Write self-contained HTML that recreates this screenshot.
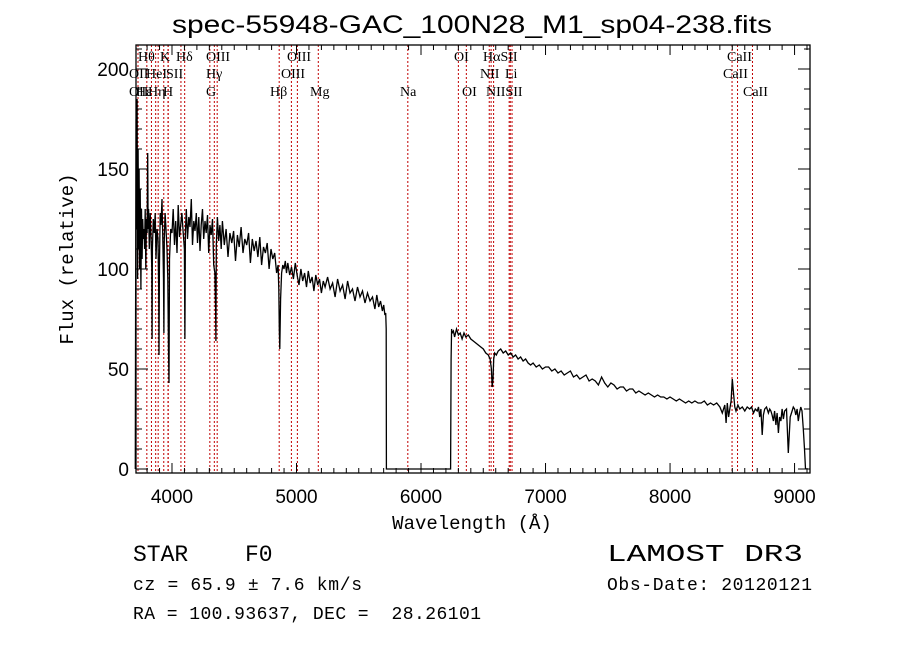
<!DOCTYPE html>
<html><head><meta charset="utf-8"><style>
body{margin:0;background:#fff;}
svg{display:block;font-family:"Liberation Sans",sans-serif;}
</style></head><body>
<svg id="chart" width="900" height="649">
<rect width="900" height="649" fill="#fff"/>
<text x="472" y="33" font-size="25" text-anchor="middle" textLength="600" lengthAdjust="spacingAndGlyphs">spec-55948-GAC_100N28_M1_sp04-238.fits</text>
<g id="lines"></g>
<g id="linelabels" font-family="Liberation Serif, serif" font-size="14"></g>
<g id="ticks"></g>
<polyline id="spec" fill="none" stroke="#000" stroke-width="1.3"/>
<rect x="136" y="45" width="674" height="428" fill="none" stroke="#000" stroke-width="1.3"/>
<text x="472" y="529" font-size="19" text-anchor="middle" font-family="Liberation Mono, monospace">Wavelength (Å)</text>
<text transform="translate(73,259) rotate(-90)" font-size="19" text-anchor="middle" font-family="Liberation Mono, monospace">Flux (relative)</text>
<text x="133" y="561" font-size="23" font-family="Liberation Mono, monospace">STAR</text>
<text x="245" y="561" font-size="23" font-family="Liberation Mono, monospace">F0</text>
<text x="133" y="590" font-size="18" textLength="229" font-family="Liberation Mono, monospace">cz = 65.9 ± 7.6 km/s</text>
<text x="133" y="619" font-size="18" textLength="348" xml:space="preserve" font-family="Liberation Mono, monospace">RA = 100.93637, DEC =  28.26101</text>
<text x="607" y="561" font-size="24" textLength="196" lengthAdjust="spacingAndGlyphs" font-family="Liberation Mono, monospace">LAMOST DR3</text>
<text x="607" y="590" font-size="18" textLength="205" font-family="Liberation Mono, monospace">Obs-Date: 20120121</text>
</svg>
<script>
const wave = [
3705,3708,3712,3716,3720,3724,3728,3732,3736,3740,
3745,3750,3755,3760,3765,3770,3775,3780,3785,3790,
3795,3800,3805,3808,3812,3818,3825,3832,3838,3840,
3843,3850,3858,3865,3872,3880,3888,3893,3896,3899,
3905,3912,3920,3928,3932,3935,3938,3945,3952,3960,
3966,3972,3976,3980,3990,4000,4010,4020,4030,4040,
4050,4060,4070,4080,4090,4100,4104,4108,4115,4125,
4135,4145,4155,4165,4175,4185,4195,4205,4215,4225,
4235,4245,4255,4265,4275,4285,4295,4305,4315,4325,
4335,4345,4350,4353,4356,4365,4375,4385,4395,4405,
4420,4435,4450,4465,4480,4495,4510,4525,4540,4555,
4570,4585,4600,4615,4630,4645,4660,4675,4690,4705,
4720,4735,4750,4765,4780,4795,4810,4825,4840,4852,
4858,4862,4866,4872,4880,4890,4900,4910,4920,4930,
4945,4960,4975,4990,5005,5020,5035,5050,5065,5080,
5095,5110,5125,5140,5155,5170,5185,5200,5215,5230,
5250,5270,5290,5310,5330,5350,5370,5390,5410,5430,
5450,5470,5490,5510,5530,5550,5570,5590,5610,5630,
5645,5660,5675,5690,5700,5710,5716,5720,5722,6000,
6238,6242,6246,6250,6260,6270,6285,6300,6315,6330,
6345,6360,6380,6400,6420,6440,6460,6480,6500,6520,
6540,6555,6565,6572,6578,6584,6592,6605,6620,6640,
6660,6680,6700,6720,6740,6760,6780,6800,6820,6840,
6860,6880,6900,6925,6950,6975,7000,7025,7050,7075,
7100,7125,7150,7175,7200,7225,7250,7275,7300,7325,
7350,7375,7400,7425,7450,7475,7500,7525,7550,7575,
7600,7625,7650,7675,7700,7725,7750,7775,7800,7825,
7850,7875,7900,7925,7950,7975,8000,8025,8050,8075,
8100,8125,8150,8175,8200,8225,8250,8275,8300,8325,
8350,8375,8400,8420,8440,8450,8460,8470,8480,8490,
8500,8510,8520,8530,8545,8560,8580,8600,8620,8640,
8655,8670,8685,8700,8710,8720,8730,8740,8750,8760,
8775,8790,8800,8810,8820,8830,8840,8850,8860,8870,
8880,8890,8900,8910,8920,8935,8950,8965,8980,8990,
9000,9010,9020,9030,9040,9050,9060,9070,9080,9088];
const flux = [
0,80,175,120,185,95,160,110,150,100,
140,90,130,105,125,115,120,110,130,100,
125,118,158,120,130,110,128,115,100,65,
110,125,118,128,105,120,115,90,57,100,
128,122,135,110,95,68,115,128,120,110,
95,60,43,105,120,118,130,112,124,108,
132,116,122,128,118,110,65,118,130,115,
126,121,135,112,124,119,128,113,126,109,
122,130,115,124,118,127,108,122,117,125,
102,98,80,64,112,126,114,122,110,124,
112,120,106,118,113,119,104,117,111,121,
108,115,112,118,103,115,109,114,106,116,
102,111,108,113,100,110,105,108,98,102,
90,70,60,85,98,102,100,104,98,103,
97,101,95,103,97,92,100,94,98,91,
99,93,96,89,97,92,95,88,94,91,
96,90,93,86,95,89,92,85,94,88,
90,84,91,86,89,83,88,84,86,80,
87,81,84,79,82,77,78,70,0,0,
0,55,70,68,69,66,70,67,68,65,
68,66,67,65,64,63,62,61,60,58,
57,55,50,41,45,55,58,57,59,60,
58,59,57,58,56,57,55,56,54,55,
53,52,53,51,52,50,51,51,49,50,
48,49,47,48,49,46,47,45,46,47,
44,45,44,42,46,43,41,43,42,40,
41,41,39,40,40,38,39,38,37,38,
37,36,37,36,36,35,36,35,34,35,
34,33,34,33,34,33,33,34,32,33,
32,33,31,28,32,23,33,26,30,34,
45,38,31,29,32,30,31,29,31,30,
31,28,30,29,31,26,30,17,27,30,
31,28,30,29,27,24,29,22,28,18,
26,24,30,25,29,30,8,26,29,31,
30,27,30,24,28,31,29,20,10,0];
const lineWaves = [3727,3798,3835,3869,3889,3934,3968,3970,4072,4102,4304,4340,4363,4861,4959,5007,5175,5894,6300,6364,6548,6563,6583,6708,6717,6731,8498,8542,8662];
const lineLabelText = ["Hθ","K","Hδ","OIII","OIII","OII","HeI","SII","Hγ","OIII","OII","Hε","Hη","H","G","Hβ","Mg","Na","OI","HαSII","CaII","NII","Li","CaII","OI","NIISII","CaII"];
const labelX = [138,160,176,206,287,129,146,166,206,281,129,136,148,163,206,270,310,400,454,483,727,480,505,723,462,486,743];
const labelRow = [0,0,0,0,0,1,1,1,1,1,2,2,2,2,2,2,2,2,0,0,0,1,1,1,2,2,2];
const xTicks = [4000,5000,6000,7000,8000,9000];
const yTicks = [0,50,100,150,200];

const X0=136,X1=810,Y0=473,Y1=45;
const xMin=3711,xMax=9124,yMin=-2,yMax=212;
const sx = w => X0+(w-xMin)/(xMax-xMin)*(X1-X0);
const sy = f => Y0-(f-yMin)/(yMax-yMin)*(Y0-Y1);
const NS="http://www.w3.org/2000/svg";

const n=Math.min(wave.length,flux.length);
const pts = wave.slice(0,n).map((w,i)=>sx(w).toFixed(1)+","+sy(flux[i]).toFixed(1)).join(" ");
document.getElementById("spec").setAttribute("points",pts);

const lg=document.getElementById("lines");
lineWaves.forEach(w=>{
  const l=document.createElementNS(NS,"line");
  
  
  l.setAttribute("x1",sx(w));l.setAttribute("x2",sx(w));
  l.setAttribute("y1",Y1);l.setAttribute("y2",Y0);
  l.setAttribute("stroke","#c00000");l.setAttribute("stroke-width","1");
  l.setAttribute("stroke-dasharray","2,2");
  lg.appendChild(l);
});
const ll=document.getElementById("linelabels");
lineLabelText.forEach((t,i)=>{
  const e=document.createElementNS(NS,"text");
  
  
  e.setAttribute("x",labelX[i]);
  e.setAttribute("y",[61,78,96][labelRow[i]]);
  e.textContent=t;
  ll.appendChild(e);
});
const tg=document.getElementById("ticks");
function ln(x1,y1,x2,y2){const l=document.createElementNS(NS,"line");
  
  
  l.setAttribute("x1",x1);l.setAttribute("y1",y1);l.setAttribute("x2",x2);l.setAttribute("y2",y2);
  l.setAttribute("stroke","#000");tg.appendChild(l);}
for(let w=3800;w<=9100;w+=100){const x=sx(w);const L=(w%1000===0)?10:5;ln(x,Y0,x,Y0-L);ln(x,Y1,x,Y1+L);}
for(let f=0;f<=210;f+=10){const y=sy(f);const L=(f%50===0)?12:6;ln(X0,y,X0+L,y);ln(X1,y,X1-L,y);}
xTicks.forEach(v=>{const e=document.createElementNS(NS,"text");
  
  
  e.setAttribute("x",sx(v));e.setAttribute("y",503);e.setAttribute("font-size","19");
  e.setAttribute("text-anchor","middle");e.textContent=v;tg.appendChild(e);});
yTicks.forEach(v=>{const e=document.createElementNS(NS,"text");
  
  
  e.setAttribute("x",129);e.setAttribute("y",sy(v)+7);e.setAttribute("font-size","19");
  e.setAttribute("text-anchor","end");e.textContent=v;tg.appendChild(e);});
</script>
</body></html>
